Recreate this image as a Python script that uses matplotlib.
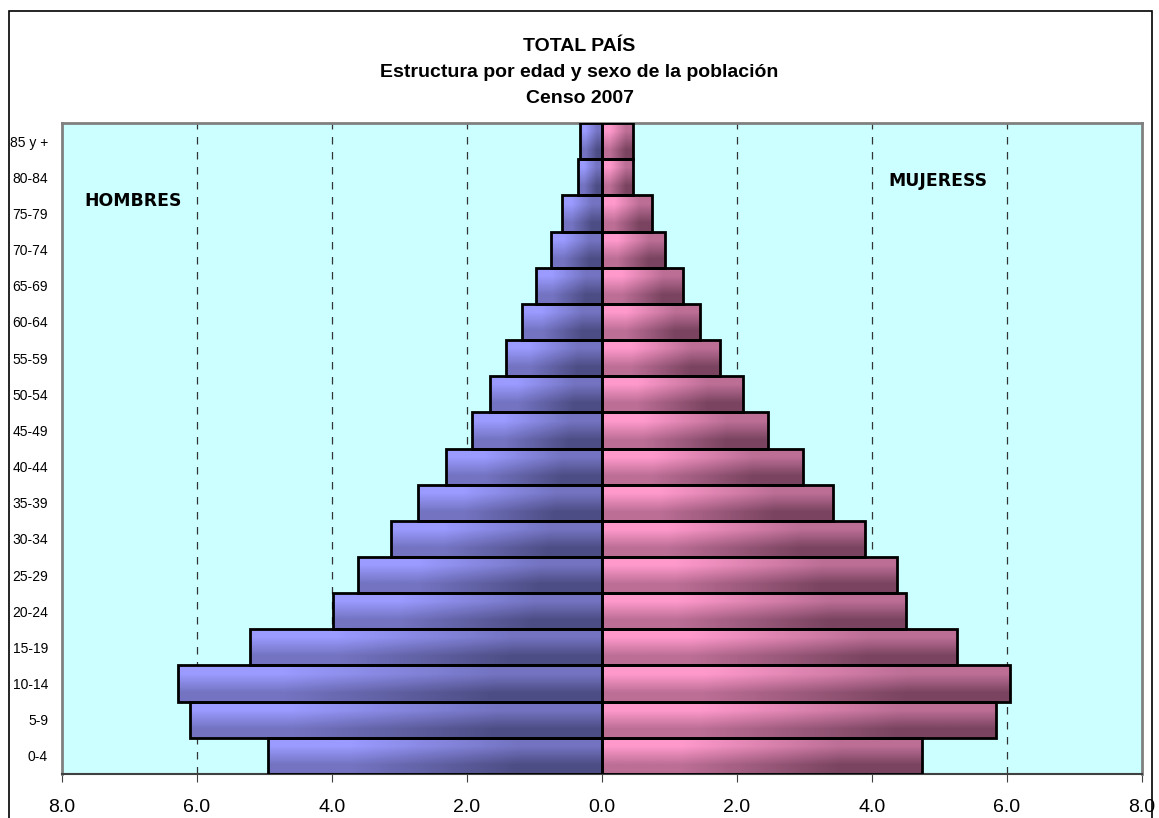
import numpy as np
import matplotlib
matplotlib.use("Agg")
import matplotlib.pyplot as plt
from matplotlib.patches import Rectangle
from matplotlib.colors import LinearSegmentedColormap

grupos = ['0-4', '5-9', '10-14', '15-19', '20-24', '25-29', '30-34', '35-39',
          '40-44', '45-49', '50-54', '55-59', '60-64', '65-69', '70-74',
          '75-79', '80-84', '85 y +']
hombres = [4.95, 6.10, 6.28, 5.21, 3.99, 3.61, 3.13, 2.73, 2.31, 1.93,
           1.66, 1.42, 1.19, 0.98, 0.76, 0.59, 0.36, 0.33]
mujeres = [4.74, 5.84, 6.04, 5.26, 4.50, 4.37, 3.90, 3.42, 2.98, 2.46,
           2.09, 1.75, 1.45, 1.20, 0.93, 0.74, 0.46, 0.46]
xticks = [-8, -6, -4, -2, 0, 2, 4, 6, 8]

cmap_h = LinearSegmentedColormap.from_list('h', ['#9a9aff', '#4d4d85'])
cmap_m = LinearSegmentedColormap.from_list('m', ['#ff99cc', '#7a4460'])

# diagonal gradient, light top-left to dark bottom-right
grad = np.array([[0.0, 0.5], [0.5, 1.0]])

fig = plt.figure(figsize=(11.59, 8.18), dpi=100)
ax = fig.add_axes([0.0535, 0.0538, 0.9318, 0.7958])
ax.set_facecolor('#ccffff')

y = np.arange(len(grupos))

def barras(valores, signo, cmap):
    bars = ax.barh(y, [signo * v for v in valores], height=1.0, color='none',
                   edgecolor='black', linewidth=2, zorder=3)
    for b in bars:
        x0, y0 = b.get_x(), b.get_y()
        w, h = b.get_width(), b.get_height()
        im = ax.imshow(grad, cmap=cmap, interpolation='bilinear', aspect='auto',
                       extent=[min(x0, x0 + w), max(x0, x0 + w), y0, y0 + h],
                       origin='upper', zorder=2)
        im.set_clip_path(b)

barras(hombres, -1, cmap_h)
barras(mujeres, 1, cmap_m)

ax.set_xlim(-8, 8)
ax.set_ylim(-0.5, len(grupos) - 0.5)
ax.set_xticks(xticks)
ax.set_xticklabels(['%.1f' % abs(t) for t in xticks], fontsize=14,
                   family='Liberation Sans')
ax.set_yticks(y)
ax.set_yticklabels(grupos, fontsize=10, family='Liberation Sans')
ax.tick_params(axis='y', length=0, pad=10)
ax.tick_params(axis='x', length=6, direction='out', color='#404040', pad=12)

for t in [-6, -4, -2, 2, 4, 6]:
    ax.axvline(t, color='#333333', linestyle=(0, (6, 6)), linewidth=0.9, zorder=1)

for s in ['left', 'top', 'right']:
    ax.spines[s].set_color('#808080')
    ax.spines[s].set_linewidth(2)
ax.spines['bottom'].set_color('#404040')
ax.spines['bottom'].set_linewidth(1.5)

ax.text(-6.95, 15.35, 'HOMBRES', fontsize=12.4, fontweight='bold',
        family='DejaVu Sans', ha='center', va='center')
ax.text(4.97, 15.9, 'MUJERESS', fontsize=12.4, fontweight='bold',
        family='DejaVu Sans', ha='center', va='center')

fig.text(0.5, 0.943, 'TOTAL PAÍS', ha='center', va='center', fontsize=14,
         fontweight='bold', family='Liberation Sans')
fig.text(0.5, 0.911, 'Estructura por edad y sexo de la población', ha='center',
         va='center', fontsize=14, fontweight='bold', family='Liberation Sans')
fig.text(0.5, 0.879, 'Censo 2007', ha='center', va='center', fontsize=14,
         fontweight='bold', family='Liberation Sans')

fig.patches.append(Rectangle((9 / 1159, -0.05), (1152 - 9) / 1159, 1.05 - 11 / 818,
                             transform=fig.transFigure, fill=False,
                             edgecolor='black', linewidth=1.2))

fig.savefig('out.png', dpi=100)
